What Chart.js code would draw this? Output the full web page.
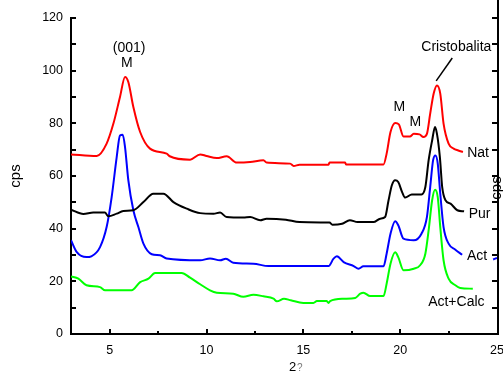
<!DOCTYPE html>
<html>
<head>
<meta charset="utf-8">
<script src="https://cdn.jsdelivr.net/npm/chart.js@4"></script>
<style>
  html,body{margin:0;padding:0;background:#fff;}
  canvas{display:block;}
</style>
</head>
<body>
<canvas id="c" width="503" height="378"></canvas>
<script>
/* ========= DATA ========= */
const natX  = [3,4.33,4.84,5.19,5.53,5.79,5.96,6.22,6.57,7.08,7.94,8.1,9.15,9.67,10.0,10.53,11.04,11.56,12.25,12.94,13.1,14.32,14.5,14.8,16.3,16.35,17.16,17.2,19.14,19.3,19.5,19.75,19.93,20.17,20.5,20.7,21.0,21.2,21.38,21.55,21.73,21.9,22.07,22.24,22.5,22.76,23.0,23.24];
const natY  = [68.2,67.6,72.3,79.9,90,97.6,95.7,86.2,76.7,70.4,68.5,67.5,66.2,68.2,67.6,66.8,67.5,65.1,65.3,66,65.1,64.7,63.8,64.3,64.3,65.1,65.1,64.4,64.4,68.5,76.7,80.1,79.6,75,75,76,75.8,74.8,76,83.7,91.3,94.4,91.3,79.9,72.3,70.4,69.7,69.1];

const purX  = [3,3.64,4.15,4.75,4.93,5.36,5.7,6.22,6.74,7.25,7.77,8.29,8.98,9.67,10.36,10.7,11.04,11.9,12.25,12.77,13.1,14.1,14.8,16.35,16.5,17.0,17.4,17.8,18.62,18.97,19.22,19.4,19.57,19.74,19.9,20.1,20.26,20.6,21.1,21.3,21.47,21.65,21.8,21.9,22.05,22.17,22.34,22.6,22.95,23.3];
const purY  = [47.2,45.6,46.1,46.1,44.7,45.7,46.7,47,50.1,53.3,53.3,50.1,47.6,45.9,45.7,46.1,44.4,44.2,44.4,43.2,43.8,43.4,42.5,42.3,41.5,41.9,43.2,42.5,42.5,43.8,44.4,50.8,56.5,58.4,57.7,53.9,51.8,53,53,55.8,66,73.5,78.6,76,67.2,55.8,50.8,49.5,47,46.6];

const actX  = [3,3.3,3.8,4.05,4.5,4.84,5.1,5.36,5.53,5.67,5.79,5.96,6.22,6.48,6.74,7.17,7.6,7.94,9.67,10.18,10.7,11.0,11.38,12.42,13.2,16.3,16.56,16.73,17.08,17.6,17.85,18.1,19.14,19.3,19.5,19.74,19.9,20.17,20.7,21.1,21.38,21.55,21.7,21.82,21.94,22.07,22.24,22.5,22.85,23.2,24,24.8,25];
const actY  = [35.6,31.1,29.2,29.5,33,40.6,52,67.2,75.4,75.7,71,58.4,47,40.6,34.3,30.3,29.9,28.7,28,28.7,28,28.6,27.1,26.7,25.8,25.8,28.6,29.5,27.3,25.8,24.8,25.7,25.7,30.5,38.1,42.8,41.3,36.2,35.6,38.1,44.4,55.8,66,67.8,64.7,53.3,40.6,34.3,32,30.1,null,28.3,28.9];

const calcX = [3,3.38,3.8,4.5,4.76,6.13,6.57,7.0,7.34,8.72,9.15,9.67,10.18,10.53,11.38,11.9,12.42,12.94,13.46,13.63,14.0,14.35,15.0,15.52,15.7,16.2,16.3,16.38,17.08,17.68,17.94,18.1,18.45,19.14,19.3,19.5,19.74,19.9,20.17,20.7,21.03,21.3,21.47,21.65,21.8,21.94,22.07,22.24,22.5,22.85,23.1,23.75];
const calcY = [21.9,21,18.5,17.8,16.6,16.6,19.7,21,23.2,23.2,21.4,18.9,16.6,15.7,15.3,14.1,14.9,14.3,13.4,12.4,13.4,12.8,11.8,11.8,12.5,12.5,11.8,12.5,13.4,13.7,15.3,15.7,14.4,14.4,19.1,26.7,31,29.2,24.2,24.8,26.1,30.5,39.4,50.8,54.8,52,40.6,28,21,18.5,17.5,17.2];

const xTicks = [5,10,15,20,25];

// text notes, placed in data units
const noteText = ["(001)","M","Cristobalita","M","M","Nat","Pur","Act","Act+Calc"];
const noteX    = [6.0,5.88,22.9,19.95,20.78,24.02,24.1,23.97,22.9];
const noteY    = [108.7,103,108.9,86.1,80.6,68.6,45.6,29.4,12];

/* ========= HELPERS ========= */
const FONT = "'Liberation Sans', Arial, sans-serif";
const pts = (xs,ys)=>xs.map((x,i)=>({x:x,y:ys[i]}));
const line = (label,xs,ys,color)=>({
  label, data:pts(xs,ys), borderColor:color, backgroundColor:color,
  borderWidth:2, pointRadius:0, cubicInterpolationMode:"monotone", spanGaps:false
});

/* ========= DECOR PLUGIN ========= */
const decor = {
  id:"decor",
  afterDraw(chart){
    const {ctx, chartArea:a, scales:{x,y}} = chart;
    ctx.save();
    ctx.strokeStyle = "#000";
    ctx.lineWidth = 2;

    // right frame line, runs up to the top of the picture
    ctx.beginPath();
    ctx.moveTo(a.right+1, 0); ctx.lineTo(a.right+1, a.bottom+1);
    ctx.stroke();

    // inward ticks
    ctx.beginPath();
    for(let v=10; v<=120; v+=10){
      const py = Math.round(y.getPixelForValue(v));
      ctx.moveTo(a.left, py); ctx.lineTo(a.left+5, py);
      ctx.moveTo(a.right, py); ctx.lineTo(a.right-5, py);
    }
    for(let v=5; v<25; v+=2.5){
      const px = Math.round(x.getPixelForValue(v));
      const len = (v%5===0) ? 5 : 3;
      ctx.moveTo(px, a.bottom); ctx.lineTo(px, a.bottom-len);
    }
    ctx.stroke();

    // notes
    ctx.fillStyle = "#000";
    ctx.font = "14px " + FONT;
    ctx.textAlign = "center";
    ctx.textBaseline = "middle";
    noteText.forEach((t,i)=>{
      ctx.fillText(t, x.getPixelForValue(noteX[i]), y.getPixelForValue(noteY[i]));
    });

    // leader to the cristobalite peak
    ctx.lineWidth = 1.5;
    ctx.beginPath();
    ctx.moveTo(x.getPixelForValue(22.69), y.getPixelForValue(104.8));
    ctx.lineTo(x.getPixelForValue(21.86), y.getPixelForValue(96.1));
    ctx.stroke();

    // axis titles
    ctx.font = "15px " + FONT;
    ctx.save();
    ctx.translate(16, (a.top+a.bottom)/2);
    ctx.rotate(-Math.PI/2);
    ctx.fillText("cps", 0, 0);
    ctx.restore();

    ctx.save();
    ctx.translate(497, 188);
    ctx.rotate(-Math.PI/2);
    ctx.fillText("cps", 0, 0);
    ctx.restore();

    // x title: "2" then a faint broken glyph
    ctx.textBaseline = "alphabetic";
    ctx.textAlign = "left";
    ctx.font = "13px " + FONT;
    ctx.fillText("2", 289, 371);
    ctx.fillStyle = "#777";
    ctx.font = "10px " + FONT;
    ctx.fillText("?", 297, 371);
    ctx.restore();
  }
};

/* ========= CHART ========= */
new Chart(document.getElementById("c"),{
  type:"line",
  data:{
    datasets:[
      line("Nat", natX, natY, "#ff0000"),
      line("Pur", purX, purY, "#000000"),
      line("Act", actX, actY, "#0000ff"),
      line("Act+Calc", calcX, calcY, "#00ff00")
    ]
  },
  options:{
    responsive:false,
    animation:false,
    devicePixelRatio:1,
    layout:{padding:{top:18,right:6,left:0,bottom:0}},
    plugins:{legend:{display:false}, tooltip:{enabled:false}},
    scales:{
      x:{
        type:"linear", min:3, max:25,
        afterBuildTicks:s=>{ s.ticks = xTicks.map(v=>({value:v})); },
        afterFit:s=>{ s.height = 44; s.paddingLeft = 0; s.paddingRight = 0; },
        grid:{display:false, drawTicks:false},
        border:{display:true, color:"#000", width:2},
        ticks:{color:"#000", padding:9, maxRotation:0, autoSkip:false,
               font:{family:FONT, size:12.5}}
      },
      y:{
        min:0, max:120,
        afterFit:s=>{ s.width = 71; },
        grid:{display:false, drawTicks:false},
        border:{display:true, color:"#000", width:2},
        ticks:{stepSize:20, color:"#000", padding:8,
               font:{family:FONT, size:12.5}}
      }
    }
  },
  plugins:[decor]
});
</script>
</body>
</html>
